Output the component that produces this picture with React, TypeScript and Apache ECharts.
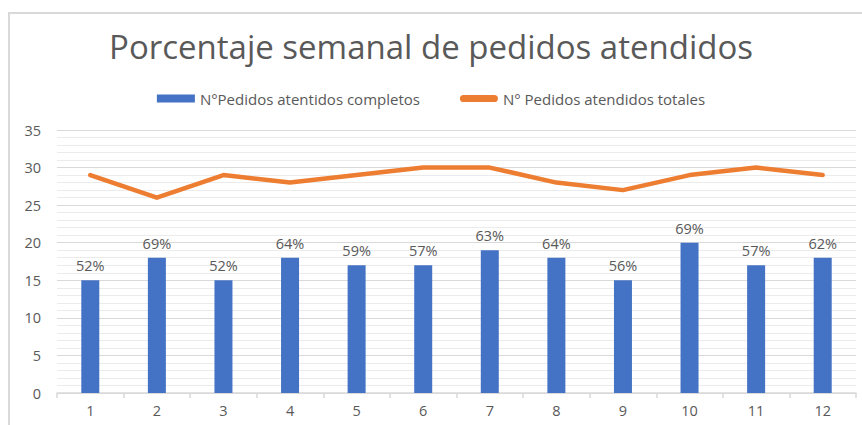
import React, { useEffect, useRef } from "react";
import * as echarts from "echarts";

const categories = ["1", "2", "3", "4", "5", "6", "7", "8", "9", "10", "11", "12"];
const completos = [15, 18, 15, 18, 17, 17, 19, 18, 15, 20, 17, 18];
const totales = [29, 26, 29, 28, 29, 30, 30, 28, 27, 29, 30, 29];
const porcentajes = ["52%", "69%", "52%", "64%", "59%", "57%", "63%", "64%", "56%", "69%", "57%", "62%"];

const FONT = "'Open Sans', 'Noto Sans', sans-serif";

export default function App() {
  const ref = useRef<HTMLDivElement>(null);
  useEffect(() => {
    const chart = echarts.init(ref.current!, undefined, { renderer: "svg" });
    chart.setOption({
      animation: false,
      backgroundColor: "#ffffff",
      title: {
        text: "Porcentaje semanal de pedidos atendidos",
        left: "center",
        top: 25,
        textStyle: { fontFamily: FONT, fontSize: 33, fontWeight: "normal", color: "#595959" },
      },
      legend: {
        top: 86,
        left: "center",
        itemGap: 40,
        itemWidth: 38,
        itemHeight: 8,
        textStyle: { fontFamily: FONT, fontSize: 15, color: "#595959" },
        data: [
          { name: "N°Pedidos atentidos completos", icon: "rect" },
          {
            name: "N° Pedidos atendidos totales",
            icon: "path://M4,0 L38,0 A4,4 0 0 1 38,8 L4,8 A4,4 0 0 1 4,0 Z",
            itemStyle: { color: "#ED7D31" },
          },
        ],
      },
      graphic: [
        {
          type: "polyline",
          shape: { points: [[9, 430], [9, 13], [870, 13]] },
          style: { stroke: "#d9d9d9", lineWidth: 2, fill: "none" },
          silent: true,
        },
      ],
      grid: { left: 57, right: 6, top: 130, bottom: 32, containLabel: false },
      xAxis: {
        type: "category",
        data: categories,
        axisLine: { lineStyle: { color: "#d9d9d9", width: 1.5 } },
        axisTick: { show: true, length: 5, lineStyle: { color: "#d9d9d9", width: 1.5 } },
        axisLabel: { fontFamily: FONT, fontSize: 14.5, color: "#595959", margin: 10 },
      },
      yAxis: {
        type: "value",
        min: 0,
        max: 35,
        interval: 5,
        axisLine: { show: false },
        axisTick: { show: false },
        axisLabel: { fontFamily: FONT, fontSize: 14.5, color: "#595959", margin: 16 },
        splitLine: { lineStyle: { color: "#d9d9d9", width: 1.2 } },
        minorTick: { show: false, splitNumber: 5 },
        minorSplitLine: { show: true, lineStyle: { color: "#ebebeb", width: 1 } },
      },
      series: [
        {
          name: "N°Pedidos atentidos completos",
          type: "bar",
          data: completos,
          barWidth: 18,
          itemStyle: { color: "#4472C4" },
          label: {
            show: true,
            position: "top",
            distance: 7,
            formatter: (p: any) => porcentajes[p.dataIndex],
            fontFamily: FONT,
            fontSize: 14.5,
            color: "#595959",
          },
        },
        {
          name: "N° Pedidos atendidos totales",
          type: "line",
          data: totales,
          symbol: "none",
          lineStyle: { color: "#ED7D31", width: 4.5, cap: "round", join: "round" },
          itemStyle: { color: "#ED7D31" },
        },
      ],
    });
    return () => chart.dispose();
  }, []);
  return (
    <div
      ref={ref}
      style={{ position: "fixed", left: 0, top: 0, width: 862, height: 425 }}
    />
  );
}
